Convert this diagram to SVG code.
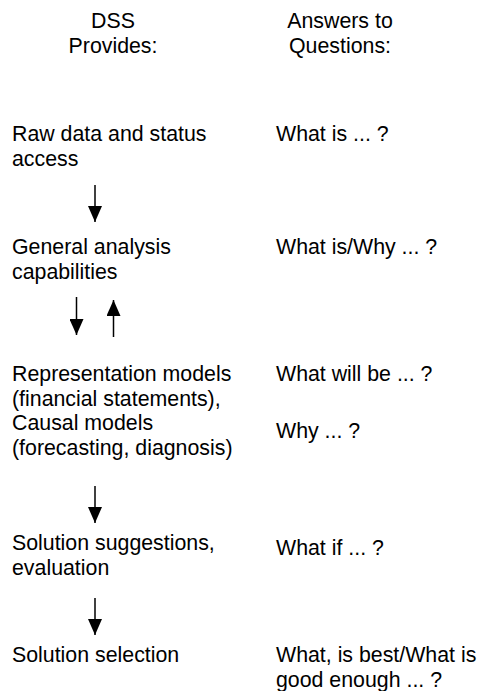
<svg xmlns="http://www.w3.org/2000/svg" width="483" height="691" viewBox="0 0 483 691">
  <style>
    text { font-family: "Liberation Sans", Arial, sans-serif; font-size: 21.33px; fill: #000; }
    .c { text-anchor: middle; }
    .conn { stroke: #000; stroke-width: 1.5; fill: none; marker-end: url(#head); }
  </style>
  <defs>
    <marker id="head" viewBox="0 0 16 14" refX="16" refY="7" markerWidth="16" markerHeight="14" markerUnits="userSpaceOnUse" orient="auto">
      <path d="M0,0 L16,7 L0,14 z" fill="#000"/>
    </marker>
  </defs>
  <rect width="483" height="691" fill="#fff"/>

  <!-- column headings -->
  <g id="head-dss">
    <text class="c" x="113" y="28">DSS</text>
    <text class="c" x="113" y="52.5">Provides:</text>
  </g>
  <g id="head-answers">
    <text class="c" x="340" y="28">Answers to</text>
    <text class="c" x="340" y="52.5">Questions:</text>
  </g>

  <!-- DSS capability levels -->
  <g id="raw-data">
    <text x="12" y="141">Raw data and status</text>
    <text x="12" y="165.5">access</text>
  </g>
  <g id="general-analysis">
    <text x="12" y="254">General analysis</text>
    <text x="12" y="278.5">capabilities</text>
  </g>
  <g id="models">
    <text x="12" y="381">Representation models</text>
    <text x="12" y="405.5">(financial statements),</text>
    <text x="12" y="430">Causal models</text>
    <text x="12" y="454.5">(forecasting, diagnosis)</text>
  </g>
  <g id="suggestions">
    <text x="12" y="550">Solution suggestions,</text>
    <text x="12" y="574.5">evaluation</text>
  </g>
  <g id="selection">
    <text x="12" y="662">Solution selection</text>
  </g>

  <!-- questions answered -->
  <g id="q-what-is">
    <text x="276" y="141">What is ... ?</text>
  </g>
  <g id="q-what-is-why">
    <text x="276" y="254">What is/Why ... ?</text>
  </g>
  <g id="q-what-will-be">
    <text x="276" y="381">What will be ... ?</text>
  </g>
  <g id="q-why">
    <text x="276" y="438">Why ... ?</text>
  </g>
  <g id="q-what-if">
    <text x="276" y="555">What if ... ?</text>
  </g>
  <g id="q-best">
    <text x="276" y="662">What, is best/What is</text>
    <text x="276" y="686.5">good enough ... ?</text>
  </g>

  <!-- connectors -->
  <g id="connectors">
    <line class="conn" x1="95" y1="185" x2="95" y2="222"/>
    <line class="conn" x1="76.5" y1="297" x2="76.5" y2="335"/>
    <line class="conn" x1="113.5" y1="337" x2="113.5" y2="300"/>
    <line class="conn" x1="95" y1="486" x2="95" y2="523"/>
    <line class="conn" x1="95" y1="598" x2="95" y2="635"/>
  </g>
</svg>
